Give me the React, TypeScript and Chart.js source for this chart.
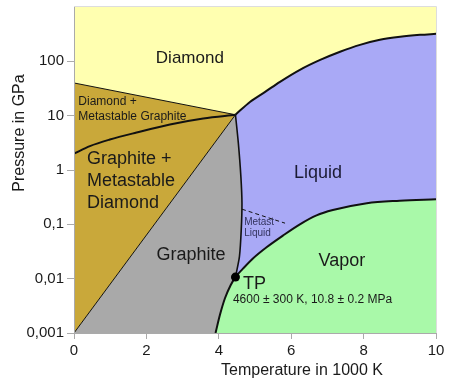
import React, { useEffect, useRef } from 'react';
import { Chart, registerables } from 'chart.js';

Chart.register(...registerables);

const FONT = "'Liberation Sans', Arial, Helvetica, sans-serif";

// Axis ranges and ticks (T in 1000 K, P in GPa)
const xMin = 0;
const xMax = 10;
const yMin = 0.001;
const yMax = 1000;
const xTickValues = [0, 2, 4, 6, 8, 10];
const yTickValues = [0.001, 0.01, 0.1, 1, 10, 100];
const yTickLabels = ['0,001', '0,01', '0,1', '1', '10', '100'];

// Phase boundaries
const diamondMetaT = [0, 4.46];
const diamondMetaP = [40, 10.4];

const graphiteMetaT = [0, 4.46];
const graphiteMetaP = [0.001, 10.4];

const equilibriumT = [0, 0.44, 0.99, 1.73, 2.65, 3.57, 4.46];
const equilibriumP = [2.0, 2.75, 3.63, 4.9, 6.9, 8.9, 10.4];

const diamondMeltT = [4.46, 4.86, 5.28, 5.69, 6.24, 6.8, 7.35, 7.9, 8.45, 9.01, 9.56, 10];
const diamondMeltP = [10.4, 17.9, 27.4, 41.9, 69.7, 106, 150, 201, 249, 283, 307, 321];

const graphiteMeltT = [4.46, 4.54, 4.61, 4.64, 4.62, 4.57, 4.46];
const graphiteMeltP = [10.4, 3.12, 0.755, 0.248, 0.079, 0.0254, 0.0107];

const vaporT = [3.91, 4.03, 4.17, 4.33, 4.46, 4.68, 4.95, 5.32, 5.77, 6.24, 6.7, 7.15, 8.09, 9.0, 10];
const vaporP = [0.001, 0.00214, 0.00436, 0.00766, 0.0107, 0.0156, 0.0238, 0.0379, 0.062, 0.1, 0.146, 0.183, 0.245, 0.272, 0.29];

const metastableT = [4.64, 5.83];
const metastableP = [0.19, 0.105];

const triplePointT = [4.46];
const triplePointP = [0.0107];

// Region colours
const diamondColor = '#FFFFB0';
const metaDiamondColor = '#C9A83A';
const graphiteColor = '#A9A9A9';
const liquidColor = '#A9A9F6';
const vaporColor = '#A9F9A9';

// Text labels in data coordinates
const labelTexts = [
  'Diamond',
  'Diamond +',
  'Metastable Graphite',
  'Graphite +',
  'Metastable',
  'Diamond',
  'Liquid',
  'Graphite',
  'Metast',
  'Liquid',
  'Vapor',
  'TP',
  '4600 ± 300 K, 10.8 ± 0.2 MPa',
];
const labelT = [3.2, 0.12, 0.12, 0.36, 0.36, 0.36, 6.74, 3.23, 4.7, 4.7, 7.4, 4.67, 4.39];
const labelP = [116, 17.9, 9.6, 1.6, 0.617, 0.248, 0.895, 0.0273, 0.111, 0.0695, 0.0209, 0.00809, 0.00414];
const labelAlign = ['center', 'left', 'left', 'left', 'left', 'left', 'center', 'center', 'left', 'left', 'center', 'left', 'left'];
const labelSize = [17, 12, 12, 18, 18, 18, 18, 18, 10, 10, 18, 18, 12];
const labelColor = ['#1a1a1a', '#1a1a1a', '#1a1a1a', '#1a1a1a', '#1a1a1a', '#1a1a1a', '#1a1a33', '#1a1a1a', '#33335f', '#33335f', '#1a1a1a', '#1a1a1a', '#1a1a1a'];

const zip = (t: number[], p: number[]) => t.map((v, i) => ({ x: v, y: p[i] }));

const diamondRegion = [
  { x: xMin, y: yMin },
  { x: xMin, y: yMax },
  { x: xMax, y: yMax },
  { x: xMax, y: yMin },
];
const liquidRegion = [
  ...zip(diamondMeltT, diamondMeltP),
  { x: xMax, y: yMin },
  { x: diamondMeltT[0], y: yMin },
];
const vaporRegion = [...zip(vaporT, vaporP), { x: xMax, y: yMin }];
const tpIndex = 4;
const graphiteRegion = [
  { x: graphiteMetaT[0], y: graphiteMetaP[0] },
  ...zip(graphiteMeltT, graphiteMeltP),
  ...zip(vaporT, vaporP).slice(0, tpIndex).reverse(),
];
const metaDiamondRegion = [
  { x: graphiteMetaT[0], y: graphiteMetaP[0] },
  { x: diamondMetaT[0], y: diamondMetaP[0] },
  { x: diamondMetaT[1], y: diamondMetaP[1] },
];

const regionDataset = (data: any[], color: string, order: number) => ({
  data,
  showLine: true,
  fill: 'shape',
  backgroundColor: color,
  borderColor: 'rgba(0,0,0,0)',
  borderWidth: 1,
  pointRadius: 0,
  tension: 0,
  order,
});

const lineDataset = (data: any[], width: number, order: number, smooth: string, dash: number[] = []) => ({
  data,
  showLine: true,
  fill: false,
  borderColor: '#111111',
  borderWidth: width,
  borderDash: dash,
  pointRadius: 0,
  tension: smooth === 'spline' ? 0.25 : 0,
  cubicInterpolationMode: smooth === 'monotone' ? 'monotone' : 'default',
  order,
});

const textPlugin = {
  id: 'phaseText',
  afterDatasetsDraw(chart: any) {
    const { ctx, chartArea, scales } = chart;
    ctx.save();
    // light frame on top and right
    ctx.strokeStyle = '#dddddd';
    ctx.lineWidth = 1;
    ctx.beginPath();
    ctx.moveTo(chartArea.left, chartArea.top - 0.5);
    ctx.lineTo(chartArea.right + 0.5, chartArea.top - 0.5);
    ctx.lineTo(chartArea.right + 0.5, chartArea.bottom);
    ctx.stroke();

    ctx.textBaseline = 'middle';
    for (let i = 0; i < labelTexts.length; i++) {
      ctx.font = `${labelSize[i]}px ${FONT}`;
      ctx.fillStyle = labelColor[i];
      ctx.textAlign = labelAlign[i];
      ctx.fillText(labelTexts[i], scales.x.getPixelForValue(labelT[i]), scales.y.getPixelForValue(labelP[i]));
    }
    ctx.restore();
  },
  afterDraw(chart: any) {
    const { ctx } = chart;
    ctx.save();
    ctx.font = `16px ${FONT}`;
    ctx.fillStyle = '#1a1a1a';
    ctx.textAlign = 'center';
    ctx.textBaseline = 'middle';
    ctx.fillText('Temperature in 1000 K', 302, 371);
    ctx.translate(20, 133);
    ctx.rotate(-Math.PI / 2);
    ctx.fillText('Pressure in GPa', 0, 0);
    ctx.restore();
  },
};

export default function App() {
  const ref = useRef<HTMLCanvasElement>(null);
  useEffect(() => {
    if (!ref.current) return;
    const chart = new Chart(ref.current, {
      type: 'scatter',
      data: {
        datasets: [
          regionDataset(diamondRegion, diamondColor, 20),
          regionDataset(liquidRegion, liquidColor, 19),
          regionDataset(vaporRegion, vaporColor, 18),
          regionDataset(graphiteRegion, graphiteColor, 17),
          regionDataset(metaDiamondRegion, metaDiamondColor, 16),
          lineDataset(zip(diamondMetaT, diamondMetaP), 1, 10, 'none'),
          lineDataset(zip(graphiteMetaT, graphiteMetaP), 1, 9, 'none'),
          lineDataset(zip(equilibriumT, equilibriumP), 2, 8, 'monotone'),
          lineDataset(zip(diamondMeltT, diamondMeltP), 2, 7, 'monotone'),
          lineDataset(zip(graphiteMeltT, graphiteMeltP), 1.6, 6, 'spline'),
          lineDataset(zip(vaporT, vaporP), 2, 5, 'monotone'),
          lineDataset(zip(metastableT, metastableP), 1, 4, 'none', [4, 3]),
          {
            data: zip(triplePointT, triplePointP),
            showLine: false,
            pointRadius: 4.5,
            pointBackgroundColor: '#000000',
            pointBorderColor: '#000000',
            pointBorderWidth: 0,
            order: 0,
          },
        ] as any,
      },
      options: {
        animation: false,
        responsive: false,
        devicePixelRatio: 1,
        events: [],
        layout: { padding: { top: 7, right: 25, left: 0, bottom: 0 } },
        plugins: {
          legend: { display: false },
          tooltip: { enabled: false },
        },
        scales: {
          x: {
            type: 'linear',
            min: xMin,
            max: xMax,
            afterBuildTicks: (s: any) => {
              s.ticks = xTickValues.map((v) => ({ value: v }));
            },
            afterFit: (s: any) => {
              s.height = 51;
              s.paddingLeft = 0;
              s.paddingRight = 0;
            },
            ticks: {
              font: { family: FONT, size: 15 },
              color: '#1a1a1a',
              padding: 3,
              maxRotation: 0,
              autoSkip: false,
            },
            grid: { drawOnChartArea: false, drawTicks: true, tickLength: 6, color: '#aaaaaa' },
            border: { display: true, color: '#aaaaaa', z: 1 },
          },
          y: {
            type: 'logarithmic',
            min: yMin,
            max: yMax,
            afterBuildTicks: (s: any) => {
              s.ticks = yTickValues.map((v) => ({ value: v }));
            },
            afterFit: (s: any) => {
              s.width = 74;
              s.paddingTop = 0;
              s.paddingBottom = 0;
            },
            ticks: {
              font: { family: FONT, size: 15 },
              color: '#1a1a1a',
              padding: 3,
              autoSkip: false,
              callback: (value: any) => {
                const idx = yTickValues.findIndex((v) => Math.abs(Math.log10(v) - Math.log10(Number(value))) < 1e-6);
                return idx >= 0 ? yTickLabels[idx] : '';
              },
            },
            grid: { drawOnChartArea: false, drawTicks: true, tickLength: 7, color: '#aaaaaa' },
            border: { display: true, color: '#aaaaaa', z: 1 },
          },
        },
      } as any,
      plugins: [textPlugin],
    });
    return () => chart.destroy();
  }, []);
  return (
    <div style={{ position: 'fixed', left: 0, top: 0, width: 461, height: 384, background: '#ffffff' }}>
      <canvas ref={ref} width={461} height={384} style={{ display: 'block', width: 461, height: 384 }} />
    </div>
  );
}
